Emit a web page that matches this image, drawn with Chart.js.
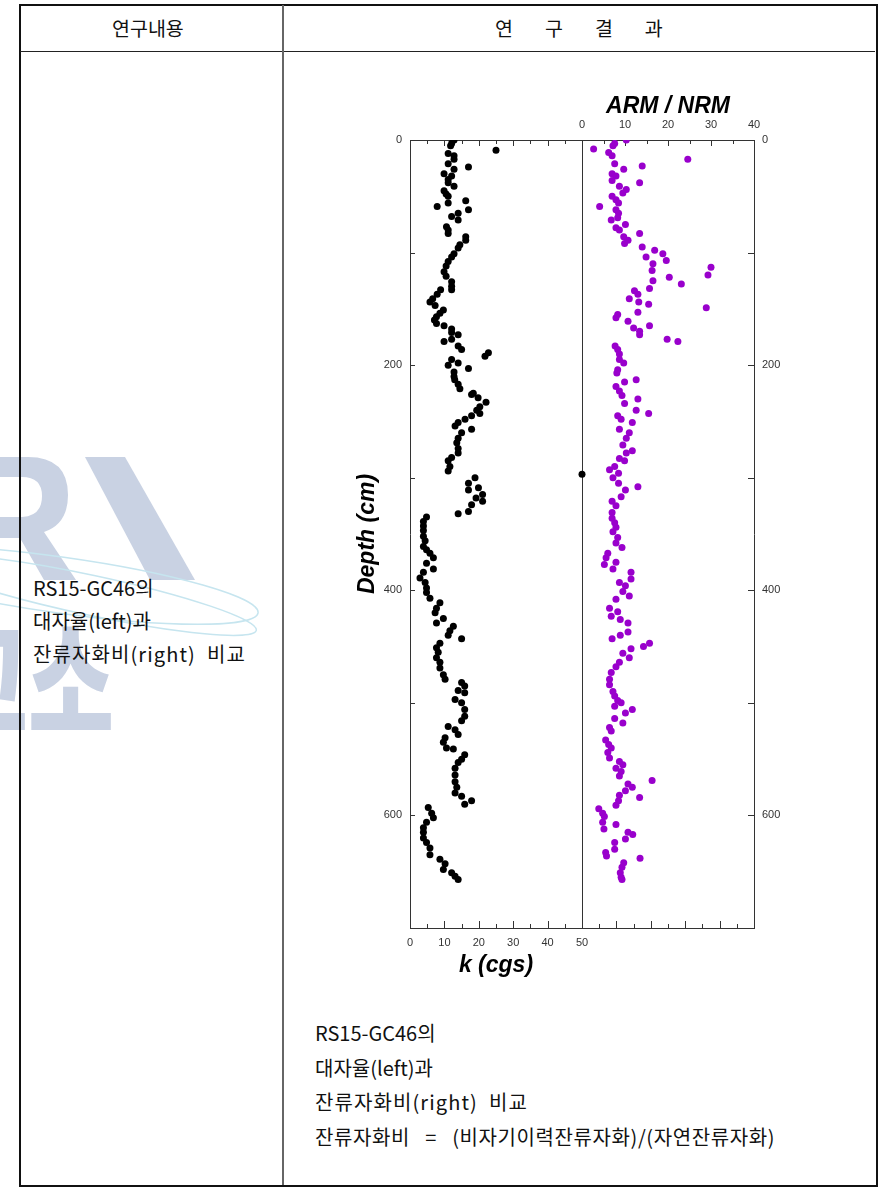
<!DOCTYPE html>
<head>
    <title>RS15-GC46</title>
    <meta charset="utf-8">
    <script src="https://cdn.jsdelivr.net/npm/chart.js"></script>
    <style>
        body { margin: 0; background: #fff; font-family: "Noto Sans CJK KR", sans-serif; color: #111; }
        .abs { position: absolute; }
        .box { left: 19px; top: 4px; width: 855px; height: 1179px; border: 2px solid #111; }
        .hline { left: 20px; top: 51px; width: 855px; height: 1px; background: #222; }
        .vline { left: 282px; top: 5px; width: 2px; height: 1180px; background: #666; }
        .head { top: 14px; font-size: 19.5px; line-height: 28px; }
        .note { font-size: 20px; line-height: 33px; white-space: nowrap; }
    </style>
</head>
<body>
    <svg class="abs" style="left:0;top:0" width="300" height="800">
        <g fill="#c9d2e3">
            <path fill-rule="evenodd" d="M0,457 L28,457 Q68,457 68,495 Q68,524 44,532 L76,580 L44,580 L20,538 L0,538 Z M0,477 L22,477 Q42,477 42,496 Q42,516 22,517 L0,517 Z"/>
            <path d="M85,457 L125,457 L195,580 L150,580 Z"/>
        </g>
        <g fill="none" stroke="#c6e5ef" stroke-width="1.5">
            <ellipse cx="60" cy="585" rx="200" ry="28" transform="rotate(8 60 585)"/>
            <ellipse cx="90" cy="595" rx="170" ry="20" transform="rotate(12 90 595)"/>
        </g>
    </svg>
    <div class="abs" style="left:-58px;top:608px;font-size:130px;font-weight:900;color:#c9d2e3;line-height:130px;transform:scaleX(0.72);transform-origin:0 0">고소</div>

    <div class="abs box"></div>
    <div class="abs hline"></div>
    <div class="abs vline"></div>
    <div class="abs head" style="left:112px">연구내용</div>
    <div class="abs head" style="left:495px;letter-spacing:32px">연구결과</div>

    <div class="abs note" style="left:33px;top:571px">RS15-GC46의<br>대자율(left)과<br><span style="letter-spacing:1.1px">잔류자화비(right)&nbsp;&nbsp;비교</span></div>
    <div class="abs note" style="left:315px;top:1016px;line-height:34.5px">RS15-GC46의<br>대자율(left)과<br><span style="letter-spacing:1.1px">잔류자화비(right)&nbsp;&nbsp;비교</span><br><span style="letter-spacing:0.6px">잔류자화비&nbsp;&nbsp; = &nbsp;&nbsp;(비자기이력잔류자화)/(자연잔류자화)</span></div>

    <canvas id="core" class="abs" width="460" height="910" style="left:340px;top:80px"></canvas>

    <script>
        // magnetic susceptibility k (cgs) against depth (cm)
        const kDepth = [0, 3, 5, 9, 12, 14, 17, 21, 24, 26, 30, 32, 35, 38, 41, 45, 48, 50, 54, 56, 59, 62, 65, 68, 71, 77, 80, 83, 86, 89, 93, 96,
            101, 104, 108, 112, 117, 121, 126, 130, 133, 133, 137, 141, 144, 147, 151, 154, 157, 160, 163, 165, 168, 171, 173, 177, 179, 183, 186, 189, 192, 195, 198,
            200, 203, 206, 210, 213, 217, 221, 225, 226, 229, 233, 237, 240, 243, 245, 248, 251, 254, 257, 260, 265, 269, 274, 278, 282, 285, 290, 294, 297,
            300, 305, 309, 311, 315, 318, 321, 324, 330, 332, 335, 339, 343, 347, 352, 356, 361, 364, 367, 371, 376, 381, 384, 389, 393, 398,
            402, 407, 411, 416, 420, 425, 429, 432, 436, 440, 443, 447, 451, 455, 460, 464, 469, 475, 479, 482, 485, 489, 491, 497,
            500, 506, 512, 516, 521, 524, 528, 531, 535, 540, 541, 546, 550, 553, 558, 564, 570, 575, 580, 583, 587, 590, 593, 598,
            602, 606, 611, 615, 620, 624, 629, 635, 639, 643, 648, 651, 654, 657];
        const kValue = [12.8, 12.1, 11.8, 25, 11.1, 12.8, 12.8, 11.1, 17, 12.8, 9.9, 12.1, 11.1, 11.1, 12.8, 9.9, 10.5, 11.1, 16.2, 11.1, 7.9, 17, 14, 12.1, 14, 10.6, 11.1, 11.1, 16.2, 16.2, 14.5, 14,
            12.8, 12.1, 11.1, 10.5, 9.9, 10.5, 12.1, 12.1, 12.1, 8.9, 7.9, 6.6, 5.8, 7.3, 9.7, 8.7, 7.7, 7.1, 7.7, 9.9, 12.1, 12.1, 14, 12.1, 9.9, 14, 15, 22.8, 21.8, 12.1, 14,
            11.1, 17, 12.8, 12.8, 13, 14, 14.5, 18.4, 17.9, 19.8, 22.1, 20.3, 19.4, 20.3, 17.9, 16, 14, 13.1, 17.9, 15, 14, 13.6, 14, 14, 12.1, 11.1, 11.6, 11.1, 50,
            18.9, 17, 19.9, 17, 21.1, 19.2, 21.1, 17.9, 17, 14, 4.8, 3.9, 3.9, 3.9, 3.9, 4.4, 3.9, 4.8, 5.8, 6.8, 4.8, 6.8, 3.9, 2.9, 4.4, 4.8,
            4.8, 5.8, 8.7, 7.7, 7.3, 9.7, 7.7, 12.6, 11.6, 11.1, 15, 8.7, 7.7, 8.2, 7.7, 8.7, 8.7, 9.7, 10.2, 15, 15.9, 14, 15.9, 13.1,
            15, 15.9, 15.9, 15, 11.1, 13.1, 14, 10.2, 9.7, 10.6, 12.6, 15.9, 15, 14, 13.1, 13.1, 13.1, 13.6, 13.1, 15, 17.9, 15.9, 5.3, 6.3,
            6.8, 4.8, 3.9, 3.9, 3.9, 4.8, 5.8, 5.8, 8.7, 10.2, 9.7, 12.1, 13.1, 14];

        // ARM / NRM ratio against depth (cm)
        const armDepth = [0, 3, 5, 8, 11, 14, 17, 21, 23, 26, 30, 32, 36, 38, 41, 44, 47, 50, 53, 56, 59, 62, 65, 69, 71, 75, 78, 80, 83, 86, 89, 92, 95, 98,
            101, 104, 107, 110, 113, 116, 120, 122, 125, 128, 132, 134, 137, 141, 144, 146, 149, 153, 155, 158, 161, 165, 167, 170, 173, 177, 179, 183, 186, 190, 195, 198,
            204, 207, 213, 215, 219, 223, 227, 230, 234, 240, 243, 245, 248, 251, 257, 260, 265, 271, 276, 278, 283, 285, 290, 293, 296,
            300, 305, 308, 311, 317, 321, 325, 331, 336, 340, 344, 348, 353, 358, 362, 367, 371, 375, 377, 381, 384, 390, 393, 396,
            401, 405, 408, 416, 419, 423, 426, 429, 437, 440, 443, 447, 450, 452, 456, 460, 464, 468, 473, 479, 484, 490, 494, 498,
            500, 503, 506, 509, 514, 518, 522, 525, 533, 537, 540, 544, 549, 552, 555, 558, 561, 565, 569, 572, 575, 578, 582, 584, 587, 591, 594, 598,
            601, 606, 608, 612, 615, 617, 621, 624, 630, 633, 636, 638, 642, 646, 651, 655, 657];
        const armValue = [10.3, 7.6, 7.2, 2.7, 6.2, 7, 24.6, 7.6, 14, 9.7, 7, 7.9, 7, 13.4, 8.7, 10.3, 9.5, 7, 7.9, 8.5, 4.1, 7.9, 8.5, 8.3, 6.8, 10.1, 7.9, 8.7, 13.4, 9.7, 10.7, 9.9, 14, 16.9,
            18.8, 14.9, 19.6, 16.5, 30, 16.3, 29.3, 20.3, 16.5, 23.1, 15.7, 12.2, 13, 11, 13.2, 15.5, 28.9, 13, 8.3, 7.9, 10.7, 15.7, 12, 13.4, 13.4, 19.8, 22.3, 7.7, 8.3, 8.7, 8.7, 9.7,
            8.3, 8.1, 12.6, 9.9, 7.9, 8.7, 9.3, 13, 9.9, 12.6, 15.5, 8.3, 9.1, 11.7, 8.7, 11, 10.3, 9.5, 11.7, 10.3, 8.7, 9.9, 7.6, 6.4, 8.5,
            7.2, 8.5, 13, 10.1, 9.1, 7, 7.9, 7, 7, 7.6, 7.9, 7.2, 8.3, 7.9, 9.3, 6, 5.6, 7.9, 5.2, 7.2, 11.4, 11.4, 8.7, 10.1,
            9.5, 11, 7.9, 6.4, 8.3, 6.8, 8.9, 10.7, 10.7, 8.9, 7, 15.7, 14.3, 11.4, 9.5, 11, 8.7, 7.9, 6.8, 6.4, 6.4, 7.2, 7.6, 8.3,
            9.1, 7.6, 11.7, 10.1, 7.6, 9.5, 6.4, 6.8, 5.5, 6.2, 6.8, 6, 6.4, 8.7, 9.5, 7.9, 9.1, 8.7, 16.3, 10.7, 11.7, 10.1, 8.7, 13.4, 8.5, 7.9, 3.9, 4.8,
            5.2, 4.8, 7.9, 5.1, 10.7, 11.8, 10.1, 7.6, 7.6, 5.5, 5.7, 13.5, 9.7, 9.3, 8.9, 9.1, 9.3];

        const depthLabels = [0, 200, 400, 600];
        const kLabels = [0, 10, 20, 30, 40, 50];
        const armLabels = [0, 10, 20, 30, 40];

        function toPoints(xs, ys) {
            return xs.map((d, i) => ({ x: ys[i], y: d }));
        }

        const tickFont = { family: 'Liberation Sans', size: 11 };

        // inward tick marks and the divider between the two panels
        const frameTicks = {
            id: 'frameTicks',
            beforeDatasetsDraw(chart) {
                const { ctx, chartArea: a, scales } = chart;
                const xK = scales.xK, xA = scales.xA, y = scales.y;
                const px = v => Math.round(v) + 0.5;
                ctx.save();
                ctx.strokeStyle = '#333';
                ctx.lineWidth = 1;
                ctx.beginPath();
                const mid = px(xK.getPixelForValue(50));
                ctx.moveTo(mid, a.top);
                ctx.lineTo(mid, a.bottom);
                for (let v = 5; v < 100; v += 5) {
                    const x = px(xK.getPixelForValue(v));
                    ctx.moveTo(x, a.bottom);
                    ctx.lineTo(x, a.bottom - (v % 10 === 0 ? 7 : 4));
                }
                for (let v = 5; v < 50; v += 5) {
                    const x = px(xK.getPixelForValue(v));
                    ctx.moveTo(x, a.top);
                    ctx.lineTo(x, a.top + (v % 10 === 0 ? 6 : 4));
                }
                for (let v = 5; v < 40; v += 5) {
                    const x = px(xA.getPixelForValue(v));
                    ctx.moveTo(x, a.top);
                    ctx.lineTo(x, a.top + (v % 10 === 0 ? 6 : 4));
                }
                for (let d = 100; d < 700; d += 100) {
                    const yy = px(y.getPixelForValue(d));
                    ctx.moveTo(a.left, yy);
                    ctx.lineTo(a.left + 5, yy);
                    ctx.moveTo(a.right, yy);
                    ctx.lineTo(a.right - 6, yy);
                }
                ctx.stroke();
                ctx.restore();
            },
            afterDraw(chart) {
                const { ctx, chartArea: a, scales } = chart;
                ctx.save();
                ctx.fillStyle = '#000';
                ctx.font = 'italic bold 23px "Liberation Sans"';
                ctx.textAlign = 'center';
                ctx.textBaseline = 'alphabetic';
                ctx.fillText('ARM / NRM', scales.xA.getPixelForValue(20), a.top - 27);
                ctx.fillText('k (cgs)', scales.xK.getPixelForValue(25), a.bottom + 44);
                ctx.translate(a.left - 36, (a.top + a.bottom) / 2);
                ctx.rotate(-Math.PI / 2);
                ctx.fillText('Depth (cm)', 0, 0);
                ctx.restore();
            }
        };

        const ctx = document.getElementById('core');
        new Chart(ctx, {
            type: 'scatter',
            data: {
                datasets: [{
                    label: 'k',
                    data: toPoints(kDepth, kValue),
                    xAxisID: 'xK',
                    yAxisID: 'y',
                    backgroundColor: '#000',
                    borderWidth: 0,
                    pointRadius: 3.5
                }, {
                    label: 'ARM/NRM',
                    data: toPoints(armDepth, armValue),
                    xAxisID: 'xA',
                    yAxisID: 'y',
                    backgroundColor: '#9900cc',
                    borderWidth: 0,
                    pointRadius: 3.5
                }]
            },
            options: {
                responsive: false,
                animation: false,
                devicePixelRatio: 1,
                layout: { padding: 0 },
                plugins: { legend: { display: false }, tooltip: { enabled: false } },
                scales: {
                    xK: {
                        type: 'linear', position: 'bottom', min: 0, max: 100,
                        grid: { display: false, drawTicks: false },
                        border: { display: true, color: '#333', width: 1 },
                        ticks: { stepSize: 10, autoSkip: false, maxRotation: 0, padding: 8, color: '#333', font: tickFont,
                            callback: v => kLabels.includes(v) ? v : '' },
                        afterFit: s => { s.height = 62; }
                    },
                    xA: {
                        type: 'linear', position: 'top', min: -40, max: 40,
                        grid: { display: false, drawTicks: false },
                        border: { display: true, color: '#333', width: 1 },
                        ticks: { stepSize: 10, autoSkip: false, maxRotation: 0, padding: 8, color: '#333', font: tickFont,
                            callback: v => armLabels.includes(v) ? v : '' },
                        afterFit: s => { s.height = 60; }
                    },
                    y: {
                        type: 'linear', position: 'left', reverse: true, min: 0, max: 700,
                        grid: { display: false, drawTicks: false },
                        border: { display: true, color: '#333', width: 1 },
                        ticks: { stepSize: 100, autoSkip: false, padding: 8, color: '#333', font: tickFont,
                            callback: v => depthLabels.includes(v) ? v : '' },
                        afterFit: s => { s.width = 70; }
                    },
                    y2: {
                        type: 'linear', position: 'right', reverse: true, min: 0, max: 700,
                        grid: { display: false, drawTicks: false },
                        border: { display: true, color: '#333', width: 1 },
                        ticks: { stepSize: 100, autoSkip: false, padding: 8, color: '#333', font: tickFont,
                            callback: v => depthLabels.includes(v) ? v : '' },
                        afterFit: s => { s.width = 46; }
                    }
                }
            },
            plugins: [frameTicks]
        });
    </script>
</body>
</html>
